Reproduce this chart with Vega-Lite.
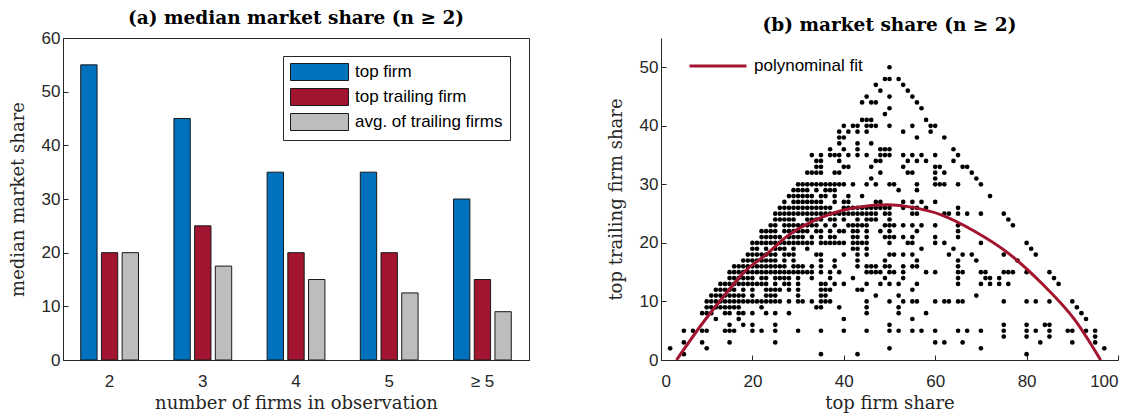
{
  "$schema": "https://vega.github.io/schema/vega-lite/v6.json",
  "padding": {"left": 8, "top": 8, "right": 0, "bottom": 0},
  "background": "white",
  "config": {
    "font": "Liberation Sans",
    "view": {"stroke": null},
    "axis": {
      "grid": false,
      "domainColor": "#262626",
      "tickColor": "#262626",
      "labelColor": "#262626",
      "titleColor": "#262626",
      "tickSize": -5,
      "labelFont": "Liberation Sans",
      "labelFontSize": 17,
      "titleFont": "DejaVu Serif",
      "titleFontSize": 18,
      "titleFontWeight": "normal"
    },
    "axisX": {"labelPadding": 18, "titlePadding": 5},
    "axisY": {"labelPadding": 8, "titlePadding": 14},
    "title": {"font": "DejaVu Serif", "fontSize": 18.5, "fontWeight": "bold", "color": "black", "anchor": "middle", "frame": "group", "offset": 2}
  },
  "datasets": {
    "bars": [
      {"n": "2", "firm": "top firm", "share": 55},
      {"n": "2", "firm": "top trailing firm", "share": 20},
      {"n": "2", "firm": "avg. of trailing firms", "share": 20},
      {"n": "3", "firm": "top firm", "share": 45},
      {"n": "3", "firm": "top trailing firm", "share": 25},
      {"n": "3", "firm": "avg. of trailing firms", "share": 17.5},
      {"n": "4", "firm": "top firm", "share": 35},
      {"n": "4", "firm": "top trailing firm", "share": 20},
      {"n": "4", "firm": "avg. of trailing firms", "share": 15},
      {"n": "5", "firm": "top firm", "share": 35},
      {"n": "5", "firm": "top trailing firm", "share": 20},
      {"n": "5", "firm": "avg. of trailing firms", "share": 12.5},
      {"n": "≥ 5", "firm": "top firm", "share": 30},
      {"n": "≥ 5", "firm": "top trailing firm", "share": 15},
      {"n": "≥ 5", "firm": "avg. of trailing firms", "share": 9}
    ],
    "fit": [
      {"top": 3.4, "trailing": 0, "series": "polynominal fit"},
      {"top": 9.5, "trailing": 6.7, "series": "polynominal fit"},
      {"top": 14.6, "trailing": 11.7, "series": "polynominal fit"},
      {"top": 18.3, "trailing": 15.1, "series": "polynominal fit"},
      {"top": 23, "trailing": 18, "series": "polynominal fit"},
      {"top": 27.7, "trailing": 21.2, "series": "polynominal fit"},
      {"top": 35, "trailing": 24.3, "series": "polynominal fit"},
      {"top": 42.3, "trailing": 26, "series": "polynominal fit"},
      {"top": 49.6, "trailing": 26.5, "series": "polynominal fit"},
      {"top": 54, "trailing": 26.2, "series": "polynominal fit"},
      {"top": 61.3, "trailing": 24.8, "series": "polynominal fit"},
      {"top": 68.6, "trailing": 22, "series": "polynominal fit"},
      {"top": 75.9, "trailing": 18.3, "series": "polynominal fit"},
      {"top": 83.3, "trailing": 13.1, "series": "polynominal fit"},
      {"top": 90.6, "trailing": 6.8, "series": "polynominal fit"},
      {"top": 96.2, "trailing": 0, "series": "polynominal fit"}
    ],
    "obs": [
      {"top":50,"trailing":50},
      {"top":49,"trailing":48},{"top":50,"trailing":48},{"top":52,"trailing":48},
      {"top":47,"trailing":47},{"top":53,"trailing":47},
      {"top":48,"trailing":46},{"top":54,"trailing":46},
      {"top":45,"trailing":45},{"top":50,"trailing":45},{"top":55,"trailing":45},
      {"top":44,"trailing":44},{"top":46,"trailing":44},{"top":47,"trailing":44},{"top":56,"trailing":44},
      {"top":50,"trailing":43},{"top":57,"trailing":43},
      {"top":49,"trailing":42},
      {"top":44,"trailing":41},{"top":45,"trailing":41},{"top":46,"trailing":41},{"top":58,"trailing":41},
      {"top":40,"trailing":40},{"top":42,"trailing":40},{"top":43,"trailing":40},{"top":45,"trailing":40},{"top":46,"trailing":40},{"top":47,"trailing":40},{"top":50,"trailing":40},{"top":55,"trailing":40},{"top":59,"trailing":40},{"top":60,"trailing":40},
      {"top":39,"trailing":39},{"top":41,"trailing":39},{"top":43,"trailing":39},{"top":45,"trailing":39},{"top":53,"trailing":39},{"top":59,"trailing":39},
      {"top":39,"trailing":38},{"top":40,"trailing":38},{"top":56,"trailing":38},{"top":62,"trailing":38},
      {"top":39,"trailing":37},{"top":43,"trailing":37},{"top":46,"trailing":37},
      {"top":37,"trailing":36},{"top":40,"trailing":36},{"top":43,"trailing":36},{"top":48,"trailing":36},{"top":49,"trailing":36},{"top":50,"trailing":36},{"top":64,"trailing":36},
      {"top":33,"trailing":35},{"top":35,"trailing":35},{"top":37,"trailing":35},{"top":38,"trailing":35},{"top":39,"trailing":35},{"top":41,"trailing":35},{"top":43,"trailing":35},{"top":45,"trailing":35},{"top":48,"trailing":35},{"top":49,"trailing":35},{"top":50,"trailing":35},{"top":53,"trailing":35},{"top":55,"trailing":35},{"top":57,"trailing":35},{"top":60,"trailing":35},{"top":65,"trailing":35},
      {"top":34,"trailing":34},{"top":35,"trailing":34},{"top":39,"trailing":34},{"top":47,"trailing":34},{"top":48,"trailing":34},{"top":54,"trailing":34},{"top":56,"trailing":34},{"top":58,"trailing":34},{"top":64,"trailing":34},
      {"top":34,"trailing":33},{"top":35,"trailing":33},{"top":40,"trailing":33},{"top":41,"trailing":33},{"top":46,"trailing":33},{"top":53,"trailing":33},{"top":60,"trailing":33},{"top":61,"trailing":33},{"top":66,"trailing":33},{"top":67,"trailing":33},
      {"top":32,"trailing":32},{"top":33,"trailing":32},{"top":34,"trailing":32},{"top":35,"trailing":32},{"top":38,"trailing":32},{"top":39,"trailing":32},{"top":48,"trailing":32},{"top":54,"trailing":32},{"top":55,"trailing":32},{"top":60,"trailing":32},{"top":62,"trailing":32},{"top":68,"trailing":32},
      {"top":46,"trailing":31},{"top":60,"trailing":31},{"top":69,"trailing":31},
      {"top":30,"trailing":30},{"top":31,"trailing":30},{"top":32,"trailing":30},{"top":33,"trailing":30},{"top":34,"trailing":30},{"top":35,"trailing":30},{"top":36,"trailing":30},{"top":37,"trailing":30},{"top":38,"trailing":30},{"top":39,"trailing":30},{"top":40,"trailing":30},{"top":42,"trailing":30},{"top":45,"trailing":30},{"top":47,"trailing":30},{"top":50,"trailing":30},{"top":51,"trailing":30},{"top":56,"trailing":30},{"top":60,"trailing":30},{"top":61,"trailing":30},{"top":62,"trailing":30},{"top":65,"trailing":30},{"top":70,"trailing":30},
      {"top":29,"trailing":29},{"top":30,"trailing":29},{"top":31,"trailing":29},{"top":32,"trailing":29},{"top":34,"trailing":29},{"top":36,"trailing":29},{"top":37,"trailing":29},{"top":38,"trailing":29},{"top":52,"trailing":29},{"top":56,"trailing":29},
      {"top":28,"trailing":28},{"top":29,"trailing":28},{"top":30,"trailing":28},{"top":31,"trailing":28},{"top":32,"trailing":28},{"top":33,"trailing":28},{"top":35,"trailing":28},{"top":36,"trailing":28},{"top":38,"trailing":28},{"top":41,"trailing":28},{"top":44,"trailing":28},{"top":72,"trailing":28},
      {"top":27,"trailing":27},{"top":29,"trailing":27},{"top":30,"trailing":27},{"top":31,"trailing":27},{"top":32,"trailing":27},{"top":33,"trailing":27},{"top":34,"trailing":27},{"top":35,"trailing":27},{"top":38,"trailing":27},{"top":40,"trailing":27},{"top":41,"trailing":27},{"top":47,"trailing":27},{"top":48,"trailing":27},{"top":53,"trailing":27},{"top":55,"trailing":27},{"top":57,"trailing":27},{"top":60,"trailing":27},
      {"top":26,"trailing":26},{"top":27,"trailing":26},{"top":28,"trailing":26},{"top":29,"trailing":26},{"top":30,"trailing":26},{"top":31,"trailing":26},{"top":32,"trailing":26},{"top":33,"trailing":26},{"top":34,"trailing":26},{"top":35,"trailing":26},{"top":36,"trailing":26},{"top":37,"trailing":26},{"top":40,"trailing":26},{"top":41,"trailing":26},{"top":42,"trailing":26},{"top":43,"trailing":26},{"top":44,"trailing":26},{"top":45,"trailing":26},{"top":46,"trailing":26},{"top":47,"trailing":26},{"top":48,"trailing":26},{"top":49,"trailing":26},{"top":50,"trailing":26},{"top":53,"trailing":26},{"top":55,"trailing":26},{"top":56,"trailing":26},{"top":58,"trailing":26},{"top":65,"trailing":26},
      {"top":25,"trailing":25},{"top":26,"trailing":25},{"top":27,"trailing":25},{"top":28,"trailing":25},{"top":29,"trailing":25},{"top":30,"trailing":25},{"top":31,"trailing":25},{"top":32,"trailing":25},{"top":33,"trailing":25},{"top":34,"trailing":25},{"top":35,"trailing":25},{"top":36,"trailing":25},{"top":37,"trailing":25},{"top":38,"trailing":25},{"top":39,"trailing":25},{"top":40,"trailing":25},{"top":41,"trailing":25},{"top":42,"trailing":25},{"top":43,"trailing":25},{"top":44,"trailing":25},{"top":45,"trailing":25},{"top":46,"trailing":25},{"top":47,"trailing":25},{"top":49,"trailing":25},{"top":50,"trailing":25},{"top":55,"trailing":25},{"top":56,"trailing":25},{"top":62,"trailing":25},{"top":63,"trailing":25},{"top":65,"trailing":25},{"top":67,"trailing":25},{"top":70,"trailing":25},{"top":75,"trailing":25},
      {"top":25,"trailing":24},{"top":26,"trailing":24},{"top":27,"trailing":24},{"top":28,"trailing":24},{"top":29,"trailing":24},{"top":32,"trailing":24},{"top":33,"trailing":24},{"top":34,"trailing":24},{"top":35,"trailing":24},{"top":37,"trailing":24},{"top":38,"trailing":24},{"top":40,"trailing":24},{"top":43,"trailing":24},{"top":45,"trailing":24},{"top":46,"trailing":24},{"top":47,"trailing":24},{"top":50,"trailing":24},{"top":76,"trailing":24},
      {"top":24,"trailing":23},{"top":25,"trailing":23},{"top":27,"trailing":23},{"top":28,"trailing":23},{"top":29,"trailing":23},{"top":30,"trailing":23},{"top":31,"trailing":23},{"top":32,"trailing":23},{"top":33,"trailing":23},{"top":34,"trailing":23},{"top":36,"trailing":23},{"top":38,"trailing":23},{"top":41,"trailing":23},{"top":42,"trailing":23},{"top":43,"trailing":23},{"top":44,"trailing":23},{"top":45,"trailing":23},{"top":49,"trailing":23},{"top":50,"trailing":23},{"top":51,"trailing":23},{"top":53,"trailing":23},{"top":55,"trailing":23},{"top":57,"trailing":23},{"top":60,"trailing":23},{"top":65,"trailing":23},{"top":77,"trailing":23},
      {"top":22,"trailing":22},{"top":23,"trailing":22},{"top":24,"trailing":22},{"top":25,"trailing":22},{"top":27,"trailing":22},{"top":28,"trailing":22},{"top":29,"trailing":22},{"top":30,"trailing":22},{"top":31,"trailing":22},{"top":32,"trailing":22},{"top":34,"trailing":22},{"top":35,"trailing":22},{"top":37,"trailing":22},{"top":39,"trailing":22},{"top":40,"trailing":22},{"top":42,"trailing":22},{"top":43,"trailing":22},{"top":45,"trailing":22},{"top":48,"trailing":22},{"top":50,"trailing":22},{"top":56,"trailing":22},{"top":65,"trailing":22},
      {"top":22,"trailing":21},{"top":23,"trailing":21},{"top":24,"trailing":21},{"top":25,"trailing":21},{"top":26,"trailing":21},{"top":28,"trailing":21},{"top":29,"trailing":21},{"top":30,"trailing":21},{"top":31,"trailing":21},{"top":33,"trailing":21},{"top":35,"trailing":21},{"top":37,"trailing":21},{"top":38,"trailing":21},{"top":42,"trailing":21},{"top":43,"trailing":21},{"top":45,"trailing":21},{"top":49,"trailing":21},{"top":50,"trailing":21},{"top":51,"trailing":21},{"top":53,"trailing":21},{"top":55,"trailing":21},{"top":60,"trailing":21},{"top":65,"trailing":21},
      {"top":20,"trailing":20},{"top":21,"trailing":20},{"top":22,"trailing":20},{"top":23,"trailing":20},{"top":24,"trailing":20},{"top":25,"trailing":20},{"top":26,"trailing":20},{"top":27,"trailing":20},{"top":28,"trailing":20},{"top":29,"trailing":20},{"top":30,"trailing":20},{"top":31,"trailing":20},{"top":32,"trailing":20},{"top":33,"trailing":20},{"top":35,"trailing":20},{"top":36,"trailing":20},{"top":37,"trailing":20},{"top":38,"trailing":20},{"top":39,"trailing":20},{"top":40,"trailing":20},{"top":42,"trailing":20},{"top":43,"trailing":20},{"top":44,"trailing":20},{"top":45,"trailing":20},{"top":50,"trailing":20},{"top":54,"trailing":20},{"top":55,"trailing":20},{"top":60,"trailing":20},{"top":62,"trailing":20},{"top":70,"trailing":20},{"top":80,"trailing":20},
      {"top":20,"trailing":19},{"top":21,"trailing":19},{"top":23,"trailing":19},{"top":25,"trailing":19},{"top":26,"trailing":19},{"top":27,"trailing":19},{"top":29,"trailing":19},{"top":32,"trailing":19},{"top":42,"trailing":19},{"top":43,"trailing":19},{"top":45,"trailing":19},{"top":57,"trailing":19},{"top":64,"trailing":19},{"top":81,"trailing":19},
      {"top":19,"trailing":18},{"top":20,"trailing":18},{"top":21,"trailing":18},{"top":22,"trailing":18},{"top":23,"trailing":18},{"top":24,"trailing":18},{"top":25,"trailing":18},{"top":27,"trailing":18},{"top":28,"trailing":18},{"top":29,"trailing":18},{"top":34,"trailing":18},{"top":35,"trailing":18},{"top":40,"trailing":18},{"top":43,"trailing":18},{"top":45,"trailing":18},{"top":50,"trailing":18},{"top":51,"trailing":18},{"top":53,"trailing":18},{"top":55,"trailing":18},{"top":63,"trailing":18},{"top":66,"trailing":18},{"top":68,"trailing":18},{"top":75,"trailing":18},{"top":82,"trailing":18},
      {"top":18,"trailing":17},{"top":19,"trailing":17},{"top":20,"trailing":17},{"top":21,"trailing":17},{"top":22,"trailing":17},{"top":23,"trailing":17},{"top":24,"trailing":17},{"top":25,"trailing":17},{"top":27,"trailing":17},{"top":29,"trailing":17},{"top":35,"trailing":17},{"top":38,"trailing":17},{"top":43,"trailing":17},{"top":49,"trailing":17},{"top":56,"trailing":17},{"top":65,"trailing":17},{"top":69,"trailing":17},{"top":78,"trailing":17},
      {"top":16,"trailing":16},{"top":17,"trailing":16},{"top":18,"trailing":16},{"top":19,"trailing":16},{"top":20,"trailing":16},{"top":21,"trailing":16},{"top":22,"trailing":16},{"top":23,"trailing":16},{"top":24,"trailing":16},{"top":25,"trailing":16},{"top":26,"trailing":16},{"top":27,"trailing":16},{"top":29,"trailing":16},{"top":30,"trailing":16},{"top":31,"trailing":16},{"top":33,"trailing":16},{"top":35,"trailing":16},{"top":38,"trailing":16},{"top":43,"trailing":16},{"top":45,"trailing":16},{"top":46,"trailing":16},{"top":47,"trailing":16},{"top":49,"trailing":16},{"top":50,"trailing":16},{"top":53,"trailing":16},{"top":55,"trailing":16},{"top":56,"trailing":16},{"top":65,"trailing":16},
      {"top":15,"trailing":15},{"top":16,"trailing":15},{"top":17,"trailing":15},{"top":18,"trailing":15},{"top":19,"trailing":15},{"top":20,"trailing":15},{"top":21,"trailing":15},{"top":22,"trailing":15},{"top":23,"trailing":15},{"top":24,"trailing":15},{"top":25,"trailing":15},{"top":26,"trailing":15},{"top":27,"trailing":15},{"top":28,"trailing":15},{"top":29,"trailing":15},{"top":30,"trailing":15},{"top":31,"trailing":15},{"top":32,"trailing":15},{"top":33,"trailing":15},{"top":35,"trailing":15},{"top":37,"trailing":15},{"top":39,"trailing":15},{"top":45,"trailing":15},{"top":46,"trailing":15},{"top":47,"trailing":15},{"top":48,"trailing":15},{"top":50,"trailing":15},{"top":51,"trailing":15},{"top":53,"trailing":15},{"top":58,"trailing":15},{"top":60,"trailing":15},{"top":65,"trailing":15},{"top":66,"trailing":15},{"top":70,"trailing":15},{"top":71,"trailing":15},{"top":75,"trailing":15},{"top":76,"trailing":15},{"top":77,"trailing":15},{"top":80,"trailing":15},{"top":85,"trailing":15},
      {"top":15,"trailing":14},{"top":16,"trailing":14},{"top":17,"trailing":14},{"top":18,"trailing":14},{"top":19,"trailing":14},{"top":20,"trailing":14},{"top":22,"trailing":14},{"top":23,"trailing":14},{"top":25,"trailing":14},{"top":26,"trailing":14},{"top":27,"trailing":14},{"top":28,"trailing":14},{"top":30,"trailing":14},{"top":33,"trailing":14},{"top":37,"trailing":14},{"top":42,"trailing":14},{"top":49,"trailing":14},{"top":53,"trailing":14},{"top":65,"trailing":14},{"top":71,"trailing":14},{"top":72,"trailing":14},{"top":74,"trailing":14},{"top":86,"trailing":14},
      {"top":13,"trailing":13},{"top":14,"trailing":13},{"top":15,"trailing":13},{"top":16,"trailing":13},{"top":17,"trailing":13},{"top":18,"trailing":13},{"top":19,"trailing":13},{"top":20,"trailing":13},{"top":21,"trailing":13},{"top":22,"trailing":13},{"top":23,"trailing":13},{"top":25,"trailing":13},{"top":27,"trailing":13},{"top":28,"trailing":13},{"top":30,"trailing":13},{"top":35,"trailing":13},{"top":36,"trailing":13},{"top":38,"trailing":13},{"top":40,"trailing":13},{"top":45,"trailing":13},{"top":48,"trailing":13},{"top":50,"trailing":13},{"top":52,"trailing":13},{"top":56,"trailing":13},{"top":65,"trailing":13},{"top":70,"trailing":13},{"top":72,"trailing":13},{"top":74,"trailing":13},{"top":76,"trailing":13},{"top":87,"trailing":13},
      {"top":12,"trailing":12},{"top":13,"trailing":12},{"top":14,"trailing":12},{"top":15,"trailing":12},{"top":16,"trailing":12},{"top":18,"trailing":12},{"top":20,"trailing":12},{"top":23,"trailing":12},{"top":24,"trailing":12},{"top":25,"trailing":12},{"top":26,"trailing":12},{"top":28,"trailing":12},{"top":30,"trailing":12},{"top":35,"trailing":12},{"top":36,"trailing":12},{"top":37,"trailing":12},{"top":43,"trailing":12},{"top":44,"trailing":12},{"top":55,"trailing":12},
      {"top":11,"trailing":11},{"top":12,"trailing":11},{"top":13,"trailing":11},{"top":14,"trailing":11},{"top":15,"trailing":11},{"top":16,"trailing":11},{"top":17,"trailing":11},{"top":18,"trailing":11},{"top":20,"trailing":11},{"top":23,"trailing":11},{"top":24,"trailing":11},{"top":25,"trailing":11},{"top":30,"trailing":11},{"top":35,"trailing":11},{"top":36,"trailing":11},{"top":47,"trailing":11},{"top":52,"trailing":11},{"top":69,"trailing":11},
      {"top":10,"trailing":10},{"top":11,"trailing":10},{"top":12,"trailing":10},{"top":13,"trailing":10},{"top":14,"trailing":10},{"top":15,"trailing":10},{"top":16,"trailing":10},{"top":17,"trailing":10},{"top":18,"trailing":10},{"top":19,"trailing":10},{"top":20,"trailing":10},{"top":21,"trailing":10},{"top":22,"trailing":10},{"top":23,"trailing":10},{"top":24,"trailing":10},{"top":25,"trailing":10},{"top":26,"trailing":10},{"top":28,"trailing":10},{"top":30,"trailing":10},{"top":31,"trailing":10},{"top":33,"trailing":10},{"top":35,"trailing":10},{"top":36,"trailing":10},{"top":37,"trailing":10},{"top":45,"trailing":10},{"top":50,"trailing":10},{"top":53,"trailing":10},{"top":55,"trailing":10},{"top":56,"trailing":10},{"top":60,"trailing":10},{"top":62,"trailing":10},{"top":63,"trailing":10},{"top":65,"trailing":10},{"top":66,"trailing":10},{"top":75,"trailing":10},{"top":80,"trailing":10},{"top":82,"trailing":10},{"top":85,"trailing":10},{"top":90,"trailing":10},
      {"top":10,"trailing":9},{"top":11,"trailing":9},{"top":12,"trailing":9},{"top":13,"trailing":9},{"top":14,"trailing":9},{"top":15,"trailing":9},{"top":16,"trailing":9},{"top":17,"trailing":9},{"top":22,"trailing":9},{"top":34,"trailing":9},{"top":35,"trailing":9},{"top":39,"trailing":9},{"top":45,"trailing":9},{"top":52,"trailing":9},{"top":91,"trailing":9},
      {"top":9,"trailing":8},{"top":10,"trailing":8},{"top":11,"trailing":8},{"top":14,"trailing":8},{"top":15,"trailing":8},{"top":17,"trailing":8},{"top":18,"trailing":8},{"top":20,"trailing":8},{"top":23,"trailing":8},{"top":25,"trailing":8},{"top":28,"trailing":8},{"top":45,"trailing":8},{"top":52,"trailing":8},{"top":58,"trailing":8},{"top":92,"trailing":8},
      {"top":12,"trailing":7},{"top":17,"trailing":7},{"top":40,"trailing":7},{"top":55,"trailing":7},{"top":93,"trailing":7},
      {"top":15,"trailing":6},{"top":18,"trailing":6},{"top":20,"trailing":6},{"top":25,"trailing":6},{"top":50,"trailing":6},{"top":75,"trailing":6},{"top":80,"trailing":6},{"top":84,"trailing":6},{"top":85,"trailing":6},
      {"top":5,"trailing":5},{"top":7,"trailing":5},{"top":9,"trailing":5},{"top":10,"trailing":5},{"top":14,"trailing":5},{"top":15,"trailing":5},{"top":16,"trailing":5},{"top":20,"trailing":5},{"top":22,"trailing":5},{"top":25,"trailing":5},{"top":30,"trailing":5},{"top":35,"trailing":5},{"top":40,"trailing":5},{"top":45,"trailing":5},{"top":50,"trailing":5},{"top":52,"trailing":5},{"top":55,"trailing":5},{"top":57,"trailing":5},{"top":60,"trailing":5},{"top":65,"trailing":5},{"top":67,"trailing":5},{"top":70,"trailing":5},{"top":75,"trailing":5},{"top":80,"trailing":5},{"top":82,"trailing":5},{"top":85,"trailing":5},{"top":89,"trailing":5},{"top":90,"trailing":5},{"top":93,"trailing":5},{"top":95,"trailing":5},
      {"top":75,"trailing":4},{"top":80,"trailing":4},{"top":85,"trailing":4},{"top":95,"trailing":4},
      {"top":5,"trailing":3},{"top":9,"trailing":3},{"top":15,"trailing":3},{"top":25,"trailing":3},{"top":60,"trailing":3},{"top":62,"trailing":3},{"top":66,"trailing":3},{"top":83,"trailing":3},{"top":90,"trailing":3},{"top":95,"trailing":3},
      {"top":2,"trailing":2},{"top":10,"trailing":2},{"top":50,"trailing":2},{"top":70,"trailing":2},{"top":97,"trailing":2},
      {"top":5,"trailing":1},{"top":35,"trailing":1},{"top":43,"trailing":1},{"top":80,"trailing":1}
    ]
  },
  "hconcat": [
    {
      "title": {"text": "(a) median market share (n ≥ 2)"},
      "width": 466,
      "height": 322,
      "view": {"stroke": "#262626", "strokeWidth": 1},
      "data": {"name": "bars"},
      "mark": {"type": "bar", "stroke": "#1a1a1a", "strokeWidth": 1},
      "encoding": {
        "x": {
          "field": "n", "type": "nominal",
          "sort": ["2", "3", "4", "5", "≥ 5"],
          "scale": {"paddingInner": 0.38, "paddingOuter": 0.19},
          "axis": {"title": "number of firms in observation", "labelAngle": 0}
        },
        "xOffset": {
          "field": "firm", "type": "nominal",
          "sort": ["top firm", "top trailing firm", "avg. of trailing firms"],
          "scale": {"paddingInner": 0.21, "paddingOuter": 0}
        },
        "y": {
          "field": "share", "type": "quantitative",
          "scale": {"domain": [0, 60], "nice": false},
          "axis": {"title": "median market share", "values": [0, 10, 20, 30, 40, 50, 60]}
        },
        "color": {
          "field": "firm", "type": "nominal",
          "sort": ["top firm", "top trailing firm", "avg. of trailing firms"],
          "scale": {"domain": ["top firm", "top trailing firm", "avg. of trailing firms"], "range": ["#0072BD", "#A2142F", "#BDBDBD"]},
          "legend": {
            "title": null,
            "orient": "none",
            "legendX": 220,
            "legendY": 18,
            "padding": 7,
            "fillColor": "white",
            "strokeColor": "#262626",
            "symbolType": "M-1,-1H5.82V1H-1Z",
            "symbolSize": 289,
            "symbolStrokeColor": "#1a1a1a",
            "symbolStrokeWidth": 1,
            "symbolOpacity": 1,
            "labelOffset": 47,
            "labelFontSize": 17,
            "labelColor": "black",
            "labelFont": "Liberation Sans",
            "rowPadding": 3
          }
        }
      }
    },
    {
      "title": {"text": "(b) market share (n ≥ 2)"},
      "width": 457,
      "height": 322,
      "layer": [
        {
          "data": {"name": "obs"},
          "mark": {"type": "circle", "color": "black", "opacity": 1, "size": 22},
          "encoding": {
            "x": {
              "field": "top", "type": "quantitative",
              "scale": {"domain": [0, 100], "nice": false},
              "axis": {"title": "top firm share", "values": [0, 20, 40, 60, 80, 100]}
            },
            "y": {
              "field": "trailing", "type": "quantitative",
              "scale": {"domain": [0, 55], "nice": false},
              "axis": {"title": "top trailing firm share", "values": [0, 10, 20, 30, 40, 50]}
            }
          }
        },
        {
          "data": {"name": "fit"},
          "mark": {"type": "line", "strokeWidth": 3, "interpolate": "monotone", "clip": true},
          "encoding": {
            "x": {"field": "top", "type": "quantitative"},
            "y": {"field": "trailing", "type": "quantitative"},
            "color": {
              "field": "series", "type": "nominal",
              "scale": {"domain": ["polynominal fit"], "range": ["#A2142F"]},
              "legend": {
                "title": null,
                "orient": "none",
                "legendX": 27,
                "legendY": -2,
                "padding": 0,
                "symbolType": "stroke",
                "symbolSize": 3249,
                "symbolStrokeWidth": 3,
                "labelOffset": 6,
                "labelFontSize": 17,
                "labelColor": "black",
                "labelFont": "Liberation Sans"
              }
            }
          }
        }
      ]
    }
  ],
  "spacing": 77,
  "resolve": {"scale": {"color": "independent"}, "legend": {"color": "independent"}}
}
